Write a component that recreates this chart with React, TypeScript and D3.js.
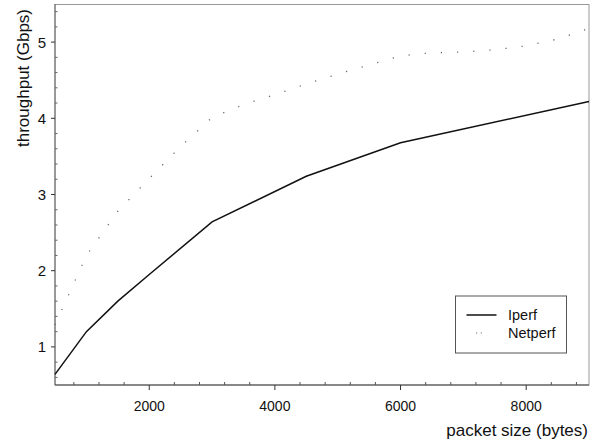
import React from "react";
import * as d3 from "d3";

const packetSizes = [500, 1000, 1500, 2000, 3000, 4500, 6000, 9000];
const iperfValues = [0.64, 1.2, 1.6, 1.95, 2.64, 3.24, 3.68, 4.22];

const netperfSizes = [500, 1000, 1500, 2000, 2500, 3000, 3500, 4000, 4500, 5000, 5500, 6000, 6500, 7000, 7500, 8000, 8500, 9000];
const netperfValues = [1.29, 2.2, 2.78, 3.21, 3.63, 4.01, 4.18, 4.31, 4.45, 4.58, 4.7, 4.82, 4.86, 4.87, 4.9, 4.95, 5.04, 5.18];

const xTicks = [2000, 4000, 6000, 8000];
const yTicks = [1, 2, 3, 4, 5];
const seriesNames = ["Iperf", "Netperf"];

const FONT = "'Liberation Sans', Arial, sans-serif";

export default function App() {
  const W = 598, H = 441;
  const x = d3.scaleLinear().domain([500, 9000]).range([55, 589]);
  const y = d3.scaleLinear().domain([0.5, 5.5]).range([385, 4]);

  const iperfPts = packetSizes.map((s, i) => [s, iperfValues[i]] as [number, number]);
  const netPts = netperfSizes.map((s, i) => [s, netperfValues[i]] as [number, number]);
  const line = d3.line<[number, number]>().x(d => x(d[0])).y(d => y(d[1]));

  const xMinor = d3.range(800, 9000, 400).filter(v => v % 2000 !== 0);
  const yMinor = d3.range(0.6, 5.5, 0.2).filter(v => Math.abs(v - Math.round(v)) > 0.01);

  const [x0, x1] = x.range();
  const [y0, y1] = y.range();

  return (
    <svg width={W} height={H} style={{ position: "absolute", left: 0, top: 0, background: "#fff" }}>
      <rect x={0} y={0} width={W} height={H} fill="#fff" />
      {/* frame */}
      <rect x={x0} y={y1 + 0.5} width={x1 - x0} height={y0 - y1 - 0.5} fill="none" stroke="#999" strokeWidth={1} />
      <line x1={x0} x2={x0} y1={y1} y2={y0} stroke="#666" strokeWidth={1} />
      <line x1={x0} x2={x1} y1={y0} y2={y0} stroke="#444" strokeWidth={1} />

      {/* x ticks */}
      {xTicks.map(t => (
        <g key={"xt" + t}>
          <line x1={x(t)} x2={x(t)} y1={y0} y2={y0 + 5} stroke="#333" />
          <text x={x(t)} y={410.5} textAnchor="middle" fontFamily={FONT} fontSize={14} fill="#111">{t}</text>
        </g>
      ))}
      {xMinor.map(t => (
        <line key={"xm" + t} x1={x(t)} x2={x(t)} y1={y0} y2={y0 - 3} stroke="#555" />
      ))}

      {/* y ticks */}
      {yTicks.map(t => (
        <g key={"yt" + t}>
          <line x1={x0 - 4} x2={x0} y1={y(t)} y2={y(t)} stroke="#333" />
          <text x={46} y={y(t) + 5.5} textAnchor="end" fontFamily={FONT} fontSize={15} fill="#111">{t}</text>
        </g>
      ))}
      {yMinor.map(t => (
        <line key={"ym" + t.toFixed(1)} x1={x0} x2={x0 + 2.5} y1={y(t)} y2={y(t)} stroke="#666" />
      ))}

      {/* series */}
      <path d={line(netPts) || ""} fill="none" stroke="#666" strokeWidth={1.3} strokeDasharray="1.2 15" />
      <path d={line(iperfPts) || ""} fill="none" stroke="#111" strokeWidth={1.5} />

      {/* axis titles */}
      <text x={588} y={436} textAnchor="end" fontFamily={FONT} fontSize={17} fill="#111">packet size (bytes)</text>
      <text transform="translate(28.5,9) rotate(-90)" textAnchor="end" fontFamily={FONT} fontSize={17} fill="#111">throughput (Gbps)</text>

      {/* legend */}
      <rect x={455.5} y={296} width={111} height={57} fill="#fff" stroke="#555" strokeWidth={1} />
      <line x1={466.5} x2={496.5} y1={315} y2={315} stroke="#111" strokeWidth={1.5} />
      <text x={508} y={320} fontFamily={FONT} fontSize={14.5} fill="#111">{seriesNames[0]}</text>
      <line x1={476} x2={483} y1={333} y2={333} stroke="#777" strokeWidth={1.2} strokeDasharray="1.2 3.5" />
      <text x={508} y={338} fontFamily={FONT} fontSize={14.5} fill="#111">{seriesNames[1]}</text>
    </svg>
  );
}
